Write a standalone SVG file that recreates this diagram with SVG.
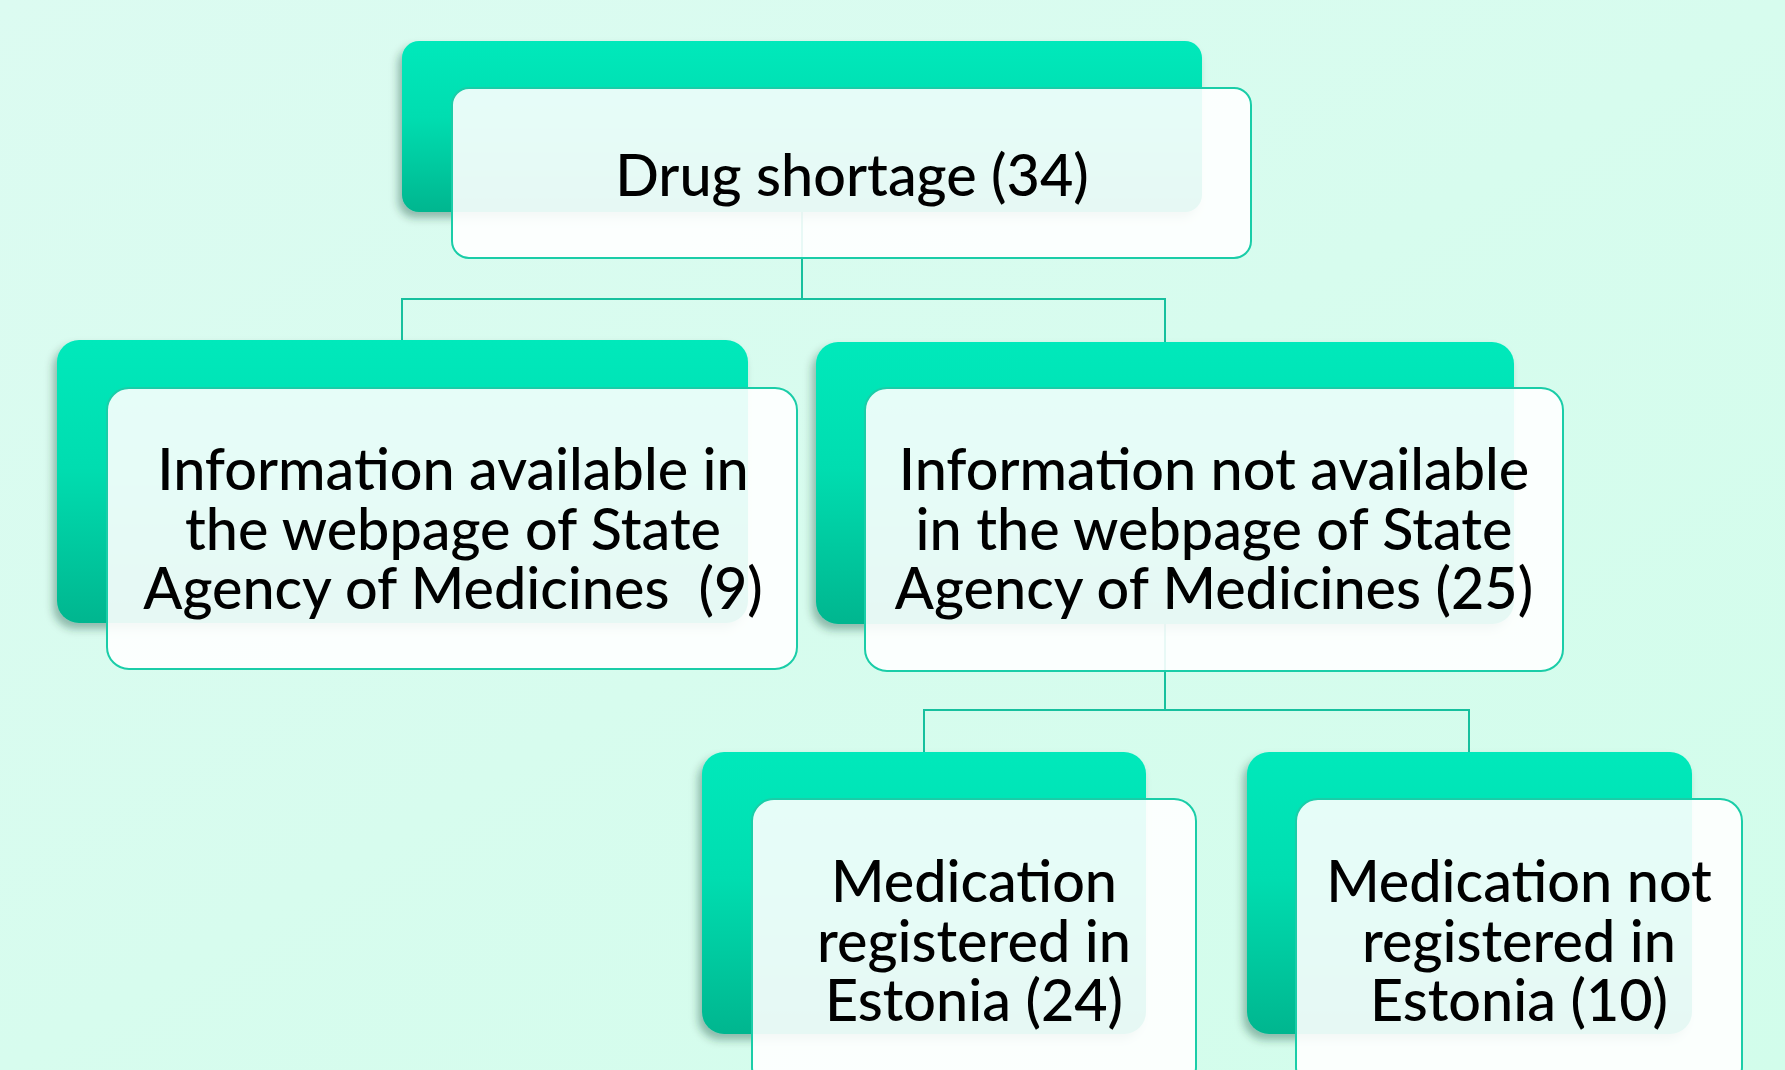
<svg xmlns="http://www.w3.org/2000/svg" width="1785" height="1070" viewBox="0 0 1785 1070">
<defs>
<linearGradient id="bg" x1="0" y1="0" x2="1" y2="1">
<stop offset="0" stop-color="#DCFBF1"/>
<stop offset="1" stop-color="#D2FDEB"/>
</linearGradient>
<linearGradient id="gr" x1="0" y1="0" x2="0" y2="1">
<stop offset="0" stop-color="#02E9BB"/>
<stop offset="0.45" stop-color="#00DDB0"/>
<stop offset="1" stop-color="#00B68F"/>
</linearGradient>
<filter id="sh" x="-10%" y="-10%" width="120%" height="130%">
<feDropShadow dx="-4" dy="6" stdDeviation="4" flood-color="#003d2e" flood-opacity="0.35"/>
</filter>
<style>
.back{fill:url(#gr);filter:url(#sh);}
.front{fill:#FFFFFF;fill-opacity:0.9;stroke:#1ACDA8;stroke-width:2;}
.conn{fill:none;stroke:#17C09E;stroke-width:2;}
.t{font-family:Lato,"Noto Sans","Liberation Sans",sans-serif;font-size:57.5px;font-weight:500;fill:#000;text-anchor:middle;white-space:pre;}
</style>
</defs>
<rect x="0" y="0" width="1785" height="1070" fill="url(#bg)"/>
<g id="connectors">
<path class="conn" d="M802 212 V299 M402 340 V299 H1165 V342"/>
<path class="conn" d="M1165 624 V710 M924 752 V710 H1469 V752"/>
</g>
<g id="node-drug-shortage">
<rect class="back" x="402" y="41" width="800" height="171" rx="17"/>
<rect class="front" x="452" y="88" width="799" height="170" rx="17"/>
<text class="t" x="852" y="196">Drug shortage (34)</text>
</g>
<g id="node-info-available">
<rect class="back" x="57" y="340" width="691" height="283" rx="22"/>
<rect class="front" x="107" y="388" width="690" height="281" rx="22"/>
<text class="t" xml:space="preserve"><tspan x="453" y="490">Information available in</tspan><tspan x="453" y="550">the webpage of State</tspan><tspan x="453" y="609">Agency of Medicines  (9)</tspan></text>
</g>
<g id="node-info-not-available">
<rect class="back" x="816" y="342" width="698" height="282" rx="22"/>
<rect class="front" x="865" y="388" width="698" height="283" rx="22"/>
<text class="t"><tspan x="1214" y="490">Information not available</tspan><tspan x="1214" y="550">in the webpage of State</tspan><tspan x="1214" y="609">Agency of Medicines (25)</tspan></text>
</g>
<g id="node-registered">
<rect class="back" x="702" y="752" width="444" height="282" rx="22"/>
<rect class="front" x="752" y="799" width="444" height="290" rx="22"/>
<text class="t"><tspan x="974" y="902">Medication</tspan><tspan x="974" y="962">registered in</tspan><tspan x="974" y="1021">Estonia (24)</tspan></text>
</g>
<g id="node-not-registered">
<rect class="back" x="1247" y="752" width="445" height="282" rx="22"/>
<rect class="front" x="1296" y="799" width="446" height="290" rx="22"/>
<text class="t"><tspan x="1519" y="902">Medication not</tspan><tspan x="1519" y="962">registered in</tspan><tspan x="1519" y="1021">Estonia (10)</tspan></text>
</g>
</svg>
